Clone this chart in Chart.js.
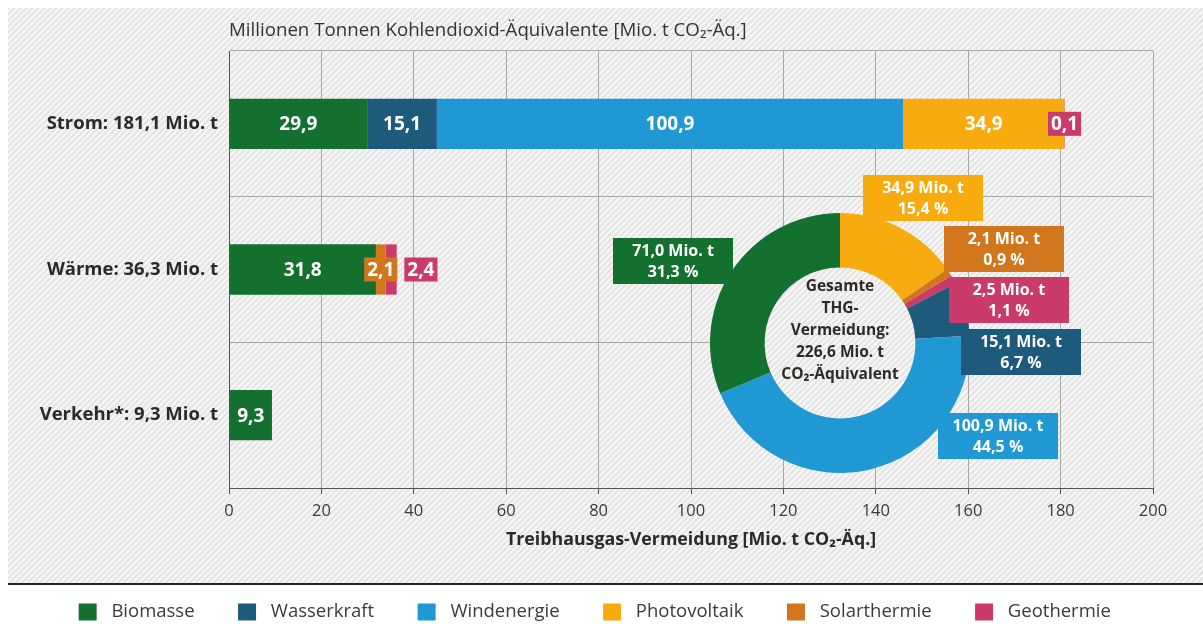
<!DOCTYPE html>
<html>
<head>
<meta charset="utf-8">
<script src="https://cdn.jsdelivr.net/npm/chart.js@4.4.1/dist/chart.umd.min.js"></script>
<style>
  body { margin: 0; background: #fff; }
  #wrap { position: relative; width: 1203px; height: 624px; }
  #bars { position: absolute; left: 0; top: 0; }
  #ring { position: absolute; left: 580px; top: 170px; }
</style>
</head>
<body>
<div id="wrap">
  <canvas id="bars" width="1203" height="624"></canvas>
  <canvas id="ring" width="520" height="330"></canvas>
</div>
<script>
// THG-Vermeidung nach Sektor und Energieträger (Mio. t CO2-Äq.)
const categories = ['Strom: 181,1 Mio. t', 'Wärme: 36,3 Mio. t', 'Verkehr*: 9,3 Mio. t'];
const sources = ['Biomasse', 'Wasserkraft', 'Windenergie', 'Photovoltaik', 'Solarthermie', 'Geothermie'];
const biomasse     = [29.9, 31.8, 9.3];
const wasserkraft  = [15.1, null, null];
const windenergie  = [100.9, null, null];
const photovoltaik = [34.9, null, null];
const solarthermie = [null, 2.1, null];
const geothermie   = [0.1, 2.4, null];
const xMin = 0, xMax = 200, xStep = 20;

// Anteile an der gesamten Vermeidung (Ring)
const ringSources = ['Photovoltaik', 'Solarthermie', 'Geothermie', 'Wasserkraft', 'Windenergie', 'Biomasse'];
const ringValues  = [34.9, 2.1, 2.5, 15.1, 100.9, 71.0];
const ringTotal   = 226.6;

const colors = {
  Biomasse: '#13702f',
  Wasserkraft: '#1d5a7b',
  Windenergie: '#1f98d3',
  Photovoltaik: '#f7ab0f',
  Solarthermie: '#d1761d',
  Geothermie: '#cb3b69'
};
const FONT = '"Open Sans", Lato, sans-serif';
const fmt = v => v.toFixed(1).replace('.', ',');

// schraffierter Hintergrund
function hatch(ctx) {
  const n = 6;
  const tile = document.createElement('canvas');
  tile.width = tile.height = n;
  const c = tile.getContext('2d');
  const img = c.createImageData(n, n);
  const shades = [249, 246, 237, 228, 227, 237];
  for (let y = 0; y < n; y++) {
    for (let x = 0; x < n; x++) {
      const v = shades[(x + y) % n];
      const k = (y * n + x) * 4;
      img.data[k] = v; img.data[k + 1] = v; img.data[k + 2] = v; img.data[k + 3] = 255;
    }
  }
  c.putImageData(img, 0, 0);
  return ctx.createPattern(tile, 'repeat');
}

const background = {
  id: 'background',
  beforeDraw(chart) {
    const ctx = chart.ctx;
    ctx.save();
    ctx.fillStyle = '#fff';
    ctx.fillRect(0, 0, chart.width, chart.height);
    ctx.fillStyle = hatch(ctx);
    ctx.fillRect(8, 8, chart.width - 8, 576);
    ctx.fillStyle = '#222';
    ctx.fillRect(8, 583, chart.width - 8, 2);
    ctx.fillStyle = '#333';
    ctx.font = '18.7px ' + FONT;
    ctx.textAlign = 'left';
    ctx.textBaseline = 'middle';
    ctx.fillText('Millionen Tonnen Kohlendioxid-Äquivalente [Mio. t CO₂-Äq.]', chart.chartArea.left, 31);
    ctx.restore();
  }
};

const barLabels = {
  id: 'barLabels',
  afterDatasetsDraw(chart) {
    const ctx = chart.ctx;
    ctx.save();
    ctx.font = 'bold 19px ' + FONT;
    ctx.textAlign = 'center';
    ctx.textBaseline = 'middle';
    const lastRight = {};
    chart.data.datasets.forEach((ds, i) => {
      chart.getDatasetMeta(i).data.forEach((bar, j) => {
        const v = ds.data[j];
        if (v == null) return;
        const txt = fmt(v);
        const w = ctx.measureText(txt).width;
        const left = Math.min(bar.x, bar.base);
        const right = Math.max(bar.x, bar.base);
        let cx = (left + right) / 2;
        if (right - left < w + 10) {
          const bw = w + 6, bh = 24;
          let bx = cx - bw / 2;
          if (lastRight[j] != null && bx < lastRight[j] + 7) bx = lastRight[j] + 7;
          ctx.fillStyle = ds.backgroundColor;
          ctx.fillRect(bx, bar.y - bh / 2, bw, bh);
          lastRight[j] = bx + bw;
          cx = bx + bw / 2;
        }
        ctx.fillStyle = '#fff';
        ctx.fillText(txt, cx, bar.y + 1);
      });
    });
    ctx.restore();
  }
};

const series = [biomasse, wasserkraft, windenergie, photovoltaik, solarthermie, geothermie];

new Chart(document.getElementById('bars'), {
  type: 'bar',
  data: {
    labels: categories,
    datasets: sources.map((s, i) => ({
      label: s,
      data: series[i],
      backgroundColor: colors[s],
      borderWidth: 0,
      categoryPercentage: 1,
      barPercentage: 0.345
    }))
  },
  options: {
    indexAxis: 'y',
    responsive: false,
    animation: false,
    devicePixelRatio: 1,
    layout: { padding: { top: 51, right: 50, left: 31, bottom: -12 } },
    scales: {
      x: {
        stacked: true,
        min: xMin,
        max: xMax,
        ticks: { stepSize: xStep, color: '#3a3a3a', padding: 7, font: { family: FONT, size: 16.5 } },
        grid: { color: '#a8a8a8', tickColor: '#555', tickLength: 6 },
        border: { color: '#555' },
        title: {
          display: true,
          text: 'Treibhausgas-Vermeidung [Mio. t CO₂-Äq.]',
          color: '#2a2a2a',
          font: { family: FONT, size: 17.8, weight: 'bold' },
          padding: { top: 0, bottom: 9 }
        },
        afterFit: s => { s.height = 72; }
      },
      y: {
        stacked: true,
        ticks: { color: '#2a2a2a', padding: 11, font: { family: FONT, size: 18.5, weight: 'bold' } },
        grid: { offset: true, color: '#a8a8a8', drawTicks: false },
        border: { color: '#555' },
        afterFit: s => { s.width = 198; }
      }
    },
    plugins: {
      tooltip: { enabled: false },
      legend: {
        position: 'bottom',
        labels: {
          color: '#3a3a3a',
          font: { family: FONT, size: 18.5 },
          boxWidth: 29,
          boxHeight: 28,
          padding: 38,
          generateLabels(chart) {
            return Chart.defaults.plugins.legend.labels.generateLabels(chart)
              .map(l => Object.assign(l, { strokeStyle: '#fff', lineWidth: 11 }));
          }
        }
      }
    }
  },
  plugins: [background, barLabels]
});

// Ring: Anteile der Energieträger
const ringBoxes = [[83, -145], [164, -94], [169, -43], [181, 9], [158, 93], [-167, -82]];

const ringText = {
  id: 'ringText',
  beforeDatasetsDraw(chart) {
    const arc = chart.getDatasetMeta(0).data[0];
    const ctx = chart.ctx;
    ctx.save();
    ctx.fillStyle = hatch(ctx);
    ctx.beginPath();
    ctx.arc(arc.x, arc.y, arc.innerRadius + 1, 0, Math.PI * 2);
    ctx.fill();
    ctx.restore();
  },
  afterDraw(chart) {
    const arc = chart.getDatasetMeta(0).data[0];
    const ctx = chart.ctx;
    const sum = ringValues.reduce((a, b) => a + b, 0);
    ctx.save();
    ctx.textAlign = 'center';
    ctx.textBaseline = 'middle';
    ctx.font = 'bold 16px ' + FONT;
    ringValues.forEach((v, i) => {
      const [dx, dy] = ringBoxes[i];
      const cx = arc.x + dx, cy = arc.y + dy;
      ctx.fillStyle = colors[ringSources[i]];
      ctx.fillRect(cx - 60, cy - 23, 120, 46);
      ctx.fillStyle = '#fff';
      ctx.fillText(fmt(v) + ' Mio. t', cx, cy - 10);
      ctx.fillText(fmt(v / sum * 100) + ' %', cx, cy + 11);
    });
    ctx.fillStyle = '#2e2a27';
    ctx.font = 'bold 15.5px ' + FONT;
    const lines = ['Gesamte', 'THG-', 'Vermeidung:', fmt(ringTotal) + ' Mio. t', 'CO₂-Äquivalent'];
    lines.forEach((t, k) => ctx.fillText(t, arc.x, arc.y - 56 + k * 22));
    ctx.restore();
  }
};

new Chart(document.getElementById('ring'), {
  type: 'doughnut',
  data: {
    labels: ringSources,
    datasets: [{
      data: ringValues,
      backgroundColor: ringSources.map(s => colors[s]),
      borderWidth: 0
    }]
  },
  options: {
    responsive: false,
    animation: false,
    devicePixelRatio: 1,
    cutout: '58%',
    layout: { padding: { top: 43, bottom: 27, left: 0, right: 0 } },
    plugins: { legend: { display: false }, tooltip: { enabled: false } }
  },
  plugins: [ringText]
});
</script>
</body>
</html>
